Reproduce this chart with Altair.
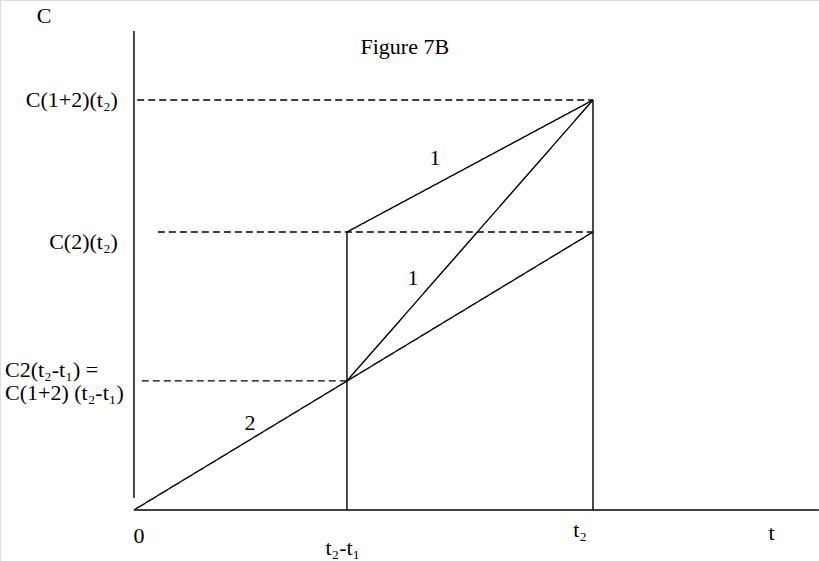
import altair as alt
import pandas as pd

# Key values on the time axis (t2 taken as 10 units)
T_ORIGIN = 0.0
T_LAG = 4.64      # t2 - t1
T2 = 10.0
T_AXIS_END = 14.92

# Key concentration levels
C_LAG = 3.15      # C2(t2-t1) = C(1+2)(t2-t1)
C2_T2 = 6.78      # C(2)(t2)
C12_T2 = 10.0     # C(1+2)(t2)
C_AXIS_TOP = 11.68
C_AXIS_BOTTOM = 0.29

# Line segments of the diagram: start / end points and stroke style
seg_x  = [T_ORIGIN, T_ORIGIN,   T_ORIGIN, T_LAG, T_LAG,  T_LAG, T2,     0.07,   0.52,  0.17]
seg_y  = [C_AXIS_BOTTOM, 0.0,   0.0,      C_LAG, C2_T2,  0.0,   0.0,    C12_T2, C2_T2, C_LAG]
seg_x2 = [T_ORIGIN, T_AXIS_END, T2,       T2,    T2,     T_LAG, T2,     T2,     T2,    T_LAG]
seg_y2 = [C_AXIS_TOP, 0.0,      C2_T2,    C12_T2, C12_T2, C2_T2, C12_T2, C12_T2, C2_T2, C_LAG]
seg_style = ["solid"] * 7 + ["dashed"] * 3

# Text annotations: content, anchor position, alignment
lab_text = ["C", "Figure 7B", "C(1+2)(t₂)", "C(2)(t₂)", "C2(t₂-t₁) =", "C(1+2) (t₂-t₁)",
            "0", "t₂-t₁", "t₂", "t", "1", "1", "2"]
lab_x = [-1.96, 5.90, -0.35, -0.35, -2.81, -2.81, 0.11, 4.55, 9.72, 13.89, 6.56, 6.08, 2.53]
lab_y = [12.05, 11.29, 10.0, 6.54, 3.42, 2.85, -0.63, -0.92, -0.49, -0.56, 8.58, 5.66, 2.12]
lab_align = ["center", "center", "right", "right", "left", "left",
             "center", "center", "center", "center", "center", "center", "center"]

segments = pd.DataFrame({"x": seg_x, "y": seg_y, "x2": seg_x2, "y2": seg_y2, "style": seg_style})
labels = pd.DataFrame({"text": lab_text, "x": lab_x, "y": lab_y, "align": lab_align})

x_scale = alt.Scale(domain=[-2.919, 14.924], nice=False, zero=False)
y_scale = alt.Scale(domain=[-1.244, 12.439], nice=False, zero=False)

lines = alt.Chart(segments).mark_rule(color="black", strokeWidth=1.4).encode(
    x=alt.X("x:Q", scale=x_scale, axis=None),
    y=alt.Y("y:Q", scale=y_scale, axis=None),
    x2="x2:Q",
    y2="y2:Q",
    strokeDash=alt.StrokeDash(
        "style:N",
        scale=alt.Scale(domain=["solid", "dashed"], range=[[1, 0], [7, 4]]),
        legend=None,
    ),
)

text_layers = []
for al in ["left", "center", "right"]:
    text_layers.append(
        alt.Chart(labels)
        .transform_filter(alt.datum.align == al)
        .mark_text(font="Liberation Serif", fontSize=22, color="black",
                   align=al, baseline="middle")
        .encode(
            x=alt.X("x:Q", scale=x_scale, axis=None),
            y=alt.Y("y:Q", scale=y_scale, axis=None),
            text="text:N",
        )
    )

chart = alt.layer(lines, *text_layers).properties(
    width=819,
    height=561,
    padding=0,
    autosize=alt.AutoSizeParams(type="none"),
).configure_view(stroke=None).configure(background="white")

chart.save("out.html", embed_options={"renderer": "svg", "actions": False})
